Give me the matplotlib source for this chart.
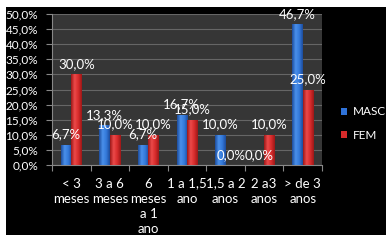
import matplotlib.pyplot as plt
import matplotlib.patches as mpatches
from matplotlib.colors import LinearSegmentedColormap
import numpy as np

plt.rcParams['font.family'] = ['Lato', 'DejaVu Sans']

categories = ['< 3\nmeses', '3 a 6\nmeses', '6\nmeses\na 1\nano', '1 a 1,5\nano',
              '1,5 a 2\nanos', '2 a3\nanos', '> de 3\nanos']
masc = [6.7, 13.3, 6.7, 16.7, 10.0, 0.0, 46.7]
fem = [30.0, 10.0, 10.0, 15.0, 0.0, 10.0, 25.0]
yticks = np.arange(0, 51, 5)

blue = '#2f72d8'
red = '#d62a2a'
blue_cm = LinearSegmentedColormap.from_list('b', ['#1d4c9c', '#4a90ea', '#3479da', '#1d4c9c'])
red_cm = LinearSegmentedColormap.from_list('r', ['#9c1818', '#ec4a4a', '#d82c2c', '#9c1818'])

fig = plt.figure(figsize=(3.89, 2.41), dpi=100, facecolor='white')
# black chart area with a thin white margin
fig.patches.append(mpatches.Rectangle((6 / 389, 1 - 235 / 241), 380 / 389, 228 / 241,
                                      transform=fig.transFigure, facecolor='black',
                                      edgecolor='none', zorder=-5))

ax = fig.add_axes([52 / 389, 1 - 165 / 241, 270 / 389, 151 / 241])
ax.set_facecolor('#363636')

x = np.arange(len(categories))
w = 0.27
b1 = ax.bar(x - w / 2, masc, w, color=blue, label='MASC', zorder=3)
b2 = ax.bar(x + w / 2, fem, w, color=red, label='FEM', zorder=3)

# cylinder-like shading
grad = np.linspace(0, 1, 64).reshape(1, -1)
for bars, cm in [(b1, blue_cm), (b2, red_cm)]:
    for p in bars:
        if p.get_height() <= 0:
            continue
        x0, y0 = p.get_x(), p.get_y()
        im = ax.imshow(grad, cmap=cm, aspect='auto', zorder=4,
                       extent=(x0, x0 + p.get_width(), y0, y0 + p.get_height()))
        im.set_clip_path(p)

for xi, v in zip(x - w / 2, masc):
    ax.annotate(f'{v:.1f}%'.replace('.', ','), (xi, v), xytext=(0, 3),
                textcoords='offset points', ha='center', va='bottom',
                color='white', fontsize=9.5, zorder=5)
for xi, v in zip(x + w / 2, fem):
    ax.annotate(f'{v:.1f}%'.replace('.', ','), (xi, v), xytext=(0, 3),
                textcoords='offset points', ha='center', va='bottom',
                color='white', fontsize=9.5, zorder=5)

ax.set_xlim(-0.5, len(categories) - 0.5)
ax.set_ylim(0, 50)
ax.set_yticks(yticks)
ax.set_yticklabels([f'{t:.1f}%'.replace('.', ',') for t in yticks], color='white', fontsize=8.5)
ax.yaxis.grid(True, color='#666666', linewidth=0.8, zorder=1)
ax.set_axisbelow(True)

ax.set_xticks(np.arange(-0.5, len(categories), 1.0))
ax.set_xticklabels([])
ax.set_xticks(x, minor=True)
ax.set_xticklabels(categories, minor=True, color='white', fontsize=9.5, linespacing=1.33,
                   va='top')
ax.tick_params(axis='x', which='minor', length=0, pad=9)
ax.tick_params(axis='x', which='major', length=4, color='#888888')
ax.tick_params(axis='y', length=4, color='#888888', pad=6)

for s in ['top', 'right']:
    ax.spines[s].set_visible(False)
for s in ['left', 'bottom']:
    ax.spines[s].set_color('#888888')

leg = ax.legend(loc='center left', bbox_to_anchor=(1.035, 0.275), frameon=False,
                fontsize=8.5, labelcolor='white', handlelength=0.55, handleheight=0.55,
                handletextpad=0.45, labelspacing=1.05, borderpad=0.3)

fig.savefig('out.png', dpi=100, facecolor='white')
